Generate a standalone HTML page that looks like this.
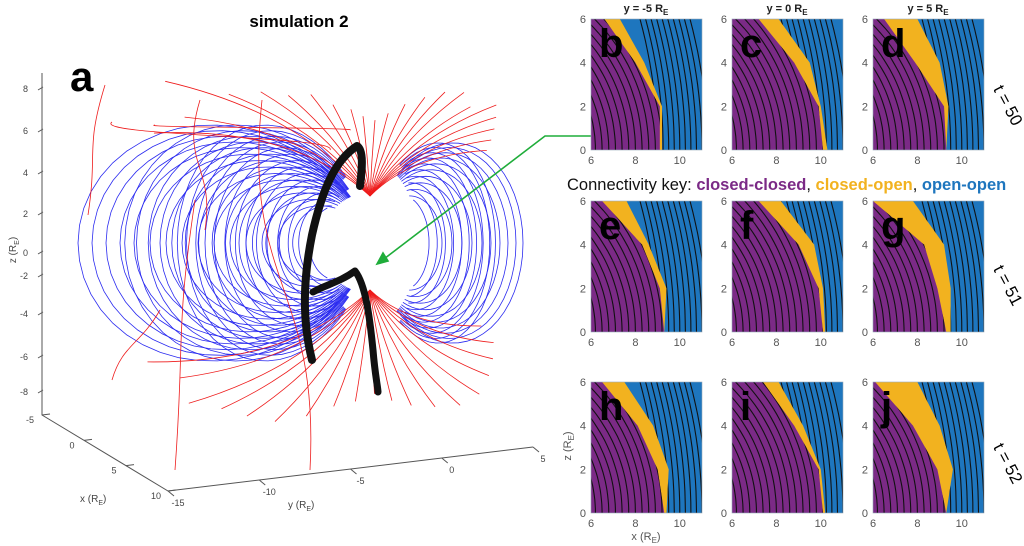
<!DOCTYPE html>
<html><head><meta charset="utf-8">
<style>
html,body{margin:0;padding:0;background:#fff;}
svg{display:block;font-family:"Liberation Sans",sans-serif;}
</style></head>
<body>
<svg id="fig" width="1024" height="546" viewBox="0 0 1024 546" xmlns="http://www.w3.org/2000/svg">
<g id="left"></g>
<g id="right"></g>
</svg>
<script>
// ---------- DATA ----------
const leftL = [292, 278, 264, 250, 236, 220, 204, 188, 172, 156, 140, 124, 108, 92];
const rightL = [153, 146, 138, 130, 121, 112, 102, 92, 82, 72];
const leftAz = [1.0, 0.84, 0.66];
const rightAz = [1.0, 0.82];
const northRedAng = [-70,-62,-55,-48,-40,-33,-25,-18,-10,-4,3,10,17,24,30,36,42,48,52,56,60,64];
const northRedLen = [230,210,250,190,170,150,140,120,110,100,95,105,120,135,150,160,150,170,160,150,140,130];
const southRedAng = [-68,-60,-52,-45,-38,-30,-22,-14,-6,2,9,16,24,32,40,48,55,62,68];
const southRedLen = [240,220,230,210,200,190,170,150,140,130,140,150,160,170,170,160,150,140,120];
const zTicks = [8,6,4,2,0,-2,-4,-6,-8];
const zTickY = [88,130,172,213,252,275,313,356,391];
const xTicks = [-5,0,5,10];
const yTicks = [-15,-10,-5,0,5];
const zLevels = [0, 2, 4, 6];
const purpleB = [
 [9.1,9.1,8.0,6.6],[10.1,9.9,8.8,7.2],[9.3,9.2,7.9,6.5],
 [9.3,9.1,8.3,6.5],[10.1,9.9,9.0,7.2],[9.3,8.9,8.3,6.0],
 [9.3,9.0,8.1,6.5],[10.1,9.9,8.8,7.4],[9.3,8.9,7.8,6.1]];
const yellowB = [
 [9.2,9.2,8.4,7.3],[10.3,10.0,9.5,8.1],[9.3,9.4,9.0,8.0],
 [9.3,9.4,8.6,7.6],[10.2,10.1,9.7,8.2],[9.5,9.5,9.2,7.8],
 [9.4,9.5,8.8,7.5],[10.2,10.0,9.2,8.1],[9.3,9.6,9.0,8.0]];
const panelLetters = ['b','c','d','e','f','g','h','i','j'];
const colTitles = ['-5','0','5'];
const rowTimes = ['50','51','52'];
const arcRadii = [6.2,6.5,6.8,7.1,7.4,7.7,8.0,8.3,8.6,8.9,9.2,9.5,9.8,10.1,10.4];
const openX = [9.0,9.25,9.5,9.75,10.0,10.25,10.5,10.75,11.0,11.25];
const pxTicks = [6,8,10];
const pzTicks = [0,2,4,6];

// ---------- HELPERS ----------
const NS="http://www.w3.org/2000/svg";
function mk(tag, attrs, parent){const e=document.createElementNS(NS,tag);for(const k in attrs)e.setAttribute(k,attrs[k]);parent.appendChild(e);return e;}
const L=document.getElementById('left'), R=document.getElementById('right');

// ---------- PANEL A ----------
const t=mk('text',{x:299,y:27,'text-anchor':'middle','font-size':17,'font-weight':'bold'},L);t.textContent='simulation 2';

const la=mk('text',{x:70,y:91,'font-size':42,'font-weight':'bold'},L);la.textContent='a';


const ax=mk('g',{stroke:'#555','stroke-width':1,fill:'none'},L);

mk('path',{d:'M42 73 L42 415 L168 491 L533 447'},ax);
const zAxisY=v=>{const i=zTicks.indexOf(v);return zTickY[i];};
zTicks.forEach((v)=>{const y=zAxisY(v);mk('path',{d:`M38 ${y+2} L43 ${y-1}`},ax);
 const tx=mk('text',{x:28,y:y+4,'font-size':9,fill:'#444','text-anchor':'end',stroke:'none'},L);tx.textContent=v;
 });
const xAx=v=>({x:42+(v+5)/15*126, y:415+(v+5)/15*76});
xTicks.forEach(v=>{const p=xAx(v);mk('path',{d:`M${p.x} ${p.y} L${p.x+8} ${p.y-1}`},ax);
 const tx=mk('text',{x:p.x-12,y:p.y+8,'font-size':9,fill:'#444','text-anchor':'middle',stroke:'none'},L);tx.textContent=v;
 });
const yAx=v=>({x:168+(v+15)/20*365, y:491-(v+15)/20*44});
yTicks.forEach(v=>{const p=yAx(v);mk('path',{d:`M${p.x} ${p.y} L${p.x+6} ${p.y+5}`},ax);
 const tx=mk('text',{x:p.x+10,y:p.y+15,'font-size':9,fill:'#444','text-anchor':'middle',stroke:'none'},L);tx.textContent=v;
 });
let lab=mk('text',{x:0,y:0,'font-size':10,fill:'#444',transform:'translate(16,250) rotate(-90)','text-anchor':'middle'},L);
lab.innerHTML='z (R<tspan font-size="7" dy="3">E</tspan><tspan dy="-3">)</tspan>';

lab=mk('text',{x:80,y:502,'font-size':10,fill:'#444'},L);lab.innerHTML='x (R<tspan font-size="7" dy="3">E</tspan><tspan dy="-3">)</tspan>';

lab=mk('text',{x:288,y:508,'font-size':10,fill:'#444'},L);lab.innerHTML='y (R<tspan font-size="7" dy="3">E</tspan><tspan dy="-3">)</tspan>';


const CX=370, CY=243;
const lines=mk('g',{fill:'none','stroke-width':0.8},L);

function dipole(Lv, dir, kz, az, col){
 const R0=48/az;
 const lm=Math.acos(Math.sqrt(Math.min(1,R0/Lv)));
 let d='';
 for(let i=0;i<=40;i++){const lam=-lm+2*lm*i/40;const c=Math.cos(lam);
  const x=CX+dir*Lv*az*c*c*c, y=CY-kz*Lv*c*c*Math.sin(lam);
  d+=(i?'L':'M')+x.toFixed(1)+' '+y.toFixed(1);}
 const p=mk('path',{d:d,stroke:col},lines);
 
}
leftL.forEach(l=>leftAz.forEach(a=>dipole(l,-1,1.05,a,'#2a2af0')));
rightL.forEach(l=>rightAz.forEach(a=>dipole(l,1,1.7,a,'#2a2af0')));
function redFan(angs,lens,cy,sgn){
 angs.forEach((a,i)=>{const r=a*Math.PI/180, Ln=lens[i];
  const ex=CX+Math.sin(r)*Ln, ey=cy+sgn*Math.cos(r)*Ln*0.8;
  const mx=CX+Math.sin(r)*Ln*0.35, my=cy+sgn*Math.cos(r)*Ln*0.15;
  const p=mk('path',{d:`M${CX} ${cy} Q${mx.toFixed(1)} ${(my+sgn*Ln*0.25).toFixed(1)} ${ex.toFixed(1)} ${ey.toFixed(1)}`,stroke:'#ee1c1c'},lines);
  });
}
redFan(northRedAng,northRedLen,196,-1);
redFan(southRedAng,southRedLen,290,1);
[[105,85,88,215],[195,200,175,470],[262,100,310,470],[160,310,112,380],[155,125,350,130],[112,122,330,150],[200,100,205,230]].forEach(q=>{
 const p=mk('path',{d:`M${q[0]} ${q[1]} C${q[0]-20} ${(q[1]+q[3])/2} ${q[2]+10} ${(q[1]+q[3])/2} ${q[2]} ${q[3]}`,stroke:'#ee1c1c'},lines);
 });

const rope=mk('g',{fill:'none',stroke:'#111','stroke-linecap':'round','stroke-linejoin':'round'},L);

mk('path',{d:'M312 360 C302 320 303 280 312 235 C322 190 335 160 357 146 C364 150 362 170 360 186','stroke-width':8},rope);
mk('path',{d:'M313 292 C325 285 340 282 355 271 C366 285 370 320 373 350 C375 375 378 388 378 392','stroke-width':7},rope);

const gr=mk('g',{stroke:'#1fad3a','stroke-width':1.6,fill:'none'},L);

mk('path',{d:'M652 136 L545 136 L380 262'},gr);
mk('path',{d:'M377 264 L383 253 L388 261 Z',fill:'#1fad3a'},gr);

// ---------- CONNECTIVITY PANELS ----------
const colX=[591,732,873], rowY=[19,201,382], PW=111, PH=131;
const defs=mk('defs',{},R);
colTitles.forEach((c,i)=>{const tx=mk('text',{x:colX[i]+55,y:12,'font-size':11,'font-weight':'bold','text-anchor':'middle',fill:'#222'},R);
 tx.innerHTML=`y = ${c} R<tspan font-size="8" dy="3">E</tspan>`;
 });
rowTimes.forEach((v,i)=>{const cy=[108,288,466][i];
 const tx=mk('text',{x:0,y:0,'font-size':17,'text-anchor':'middle',fill:'#000',transform:`translate(1003,${cy}) rotate(62)`},R);
 tx.textContent='t = '+v;});
const key=mk('text',{x:567,y:190,'font-size':16.5,fill:'#111'},R);
key.innerHTML='Connectivity key: <tspan fill="#7b2a86" font-weight="bold">closed-closed</tspan>, <tspan fill="#f2b21f" font-weight="bold">closed-open</tspan>, <tspan fill="#1e76be" font-weight="bold">open-open</tspan>';


for(let k=0;k<9;k++){
 const x0=colX[k%3], y0=rowY[Math.floor(k/3)];
 const sx=v=>x0+(v-6)/5*PW, sz=v=>y0+PH-v/6*PH;
 const g=mk('g',{},R);
 
 mk('rect',{x:x0,y:y0,width:PW,height:PH,fill:'#1e76be'},g);
 let yp=`${sx(6)},${sz(0)} `;zLevels.forEach((z,i)=>yp+=`${sx(yellowB[k][i])},${sz(z)} `);yp+=`${sx(6)},${sz(6)}`;
 const yel=mk('polygon',{points:yp,fill:'#f2b21f'},g);
 
 let pp=`${sx(6)},${sz(0)} `;zLevels.forEach((z,i)=>pp+=`${sx(purpleB[k][i])},${sz(z)} `);pp+=`${sx(6)},${sz(6)}`;
 const pur=mk('polygon',{points:pp,fill:'#7b2a86'},g);
 
 const cp=mk('clipPath',{id:'cp'+k},defs);mk('polygon',{points:pp},cp);
 let bp=`${sx(11)},${sz(0)} `;zLevels.forEach((z,i)=>bp+=`${sx(yellowB[k][i])},${sz(z)} `);bp+=`${sx(11)},${sz(6)}`;
 const cb=mk('clipPath',{id:'cb'+k},defs);mk('polygon',{points:bp},cb);
 const sl=mk('g',{fill:'none',stroke:'#111','stroke-width':1.1,'clip-path':`url(#cp${k})`},g);
 
 arcRadii.forEach(r=>{let d='';for(let i=0;i<=30;i++){const z=6.2*i/30;if(z>r)break;const x=Math.sqrt(r*r-z*z);
  d+=(d?'L':'M')+sx(x).toFixed(1)+' '+sz(z).toFixed(1);}mk('path',{d:d},sl);});
 const ol=mk('g',{fill:'none',stroke:'#111','stroke-width':1.1,'clip-path':`url(#cb${k})`},g);
 
 openX.forEach(x=>{let d='';for(let i=0;i<=12;i++){const z=6*i/12;d+=(i?'L':'M')+sx(x-0.022*z*z).toFixed(1)+' '+sz(z).toFixed(1);}mk('path',{d:d},ol);});
 mk('rect',{x:x0,y:y0,width:PW,height:PH,fill:'none',stroke:'#9ab','stroke-width':0.6},g);
 const lt=mk('text',{x:x0+8,y:y0+38,'font-size':40,'font-weight':'bold',fill:'#000'},g);lt.textContent=panelLetters[k];
 
 pxTicks.forEach(v=>{const tx=mk('text',{x:sx(v),y:y0+PH+14,'font-size':11,fill:'#555','text-anchor':'middle'},g);tx.textContent=v;
  });
 pzTicks.forEach(v=>{const tx=mk('text',{x:x0-5,y:sz(v)+4,'font-size':11,fill:'#555','text-anchor':'end'},g);tx.textContent=v;
  });
}
let xl=mk('text',{x:646,y:540,'font-size':11,fill:'#555','text-anchor':'middle'},R);
xl.innerHTML='x (R<tspan font-size="8" dy="3">E</tspan><tspan dy="-3">)</tspan>';

xl=mk('text',{x:0,y:0,'font-size':11,fill:'#555','text-anchor':'middle',transform:'translate(571,446) rotate(-90)'},R);
xl.innerHTML='z (R<tspan font-size="8" dy="3">E</tspan><tspan dy="-3">)</tspan>';

</script>
</body></html>
